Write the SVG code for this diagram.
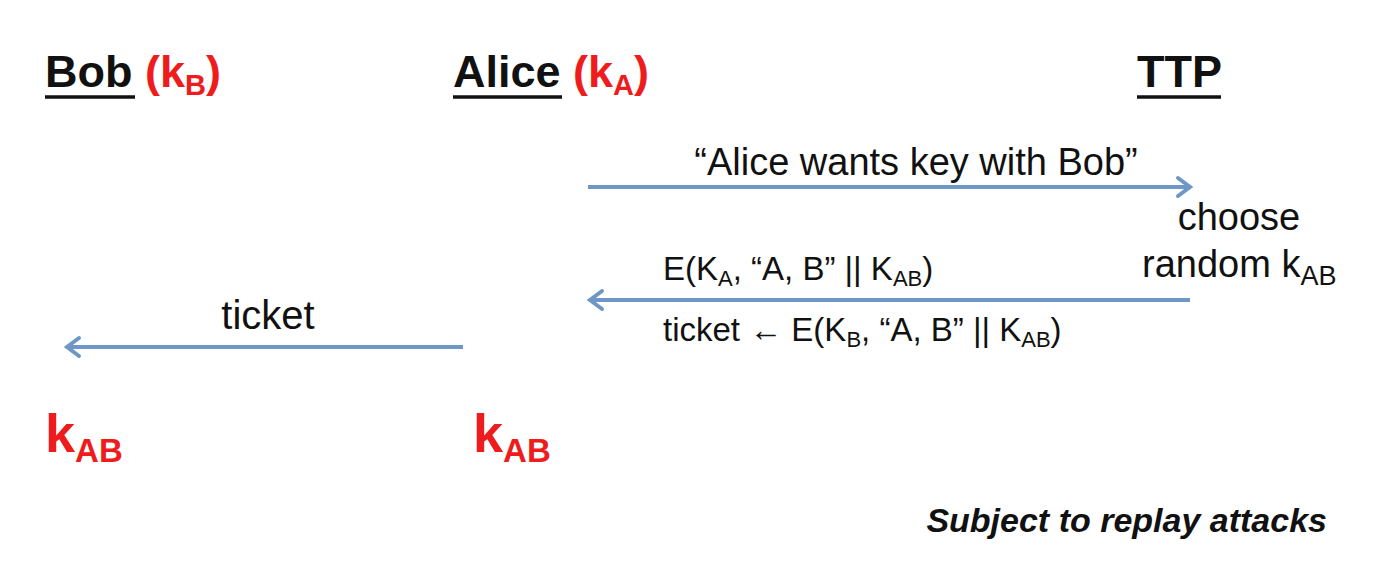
<svg xmlns="http://www.w3.org/2000/svg" width="1386" height="574" viewBox="0 0 1386 574">
<style>
.t{font-family:"Liberation Sans",Arial,sans-serif;fill:#111}
.h{font-size:45px;font-weight:bold}
.r{fill:#ee1c1c}
.m{font-size:38px}
.s{font-size:33px}
.k{font-size:54px;font-weight:bold;fill:#ee1c1c}
.ar{stroke:#6f97c6;stroke-width:4;fill:none}
.ul{stroke:#111;stroke-width:3.5}
</style>
<defs>
<marker id="ah" markerUnits="userSpaceOnUse" markerWidth="24" markerHeight="24" viewBox="-20 -12 24 24" refX="0" refY="0" orient="auto">
<path d="M-12,-9 L0,0 L-12,9" fill="none" stroke="#6f97c6" stroke-width="4" stroke-linejoin="miter" stroke-linecap="round"/>
</marker>
</defs>
<rect width="1386" height="574" fill="#fff"/>
<g id="bob">
<text class="t h" x="45" y="87">Bob <tspan class="r">(k<tspan font-size="29" dy="8">B</tspan><tspan dy="-8">)</tspan></tspan></text>
<line class="ul" x1="45" y1="97" x2="135" y2="97"/>
</g>
<g id="alice">
<text class="t h" x="453" y="87">Alice <tspan class="r">(k<tspan font-size="29" dy="8">A</tspan><tspan dy="-8">)</tspan></tspan></text>
<line class="ul" x1="453" y1="97" x2="562" y2="97"/>
</g>
<g id="ttp">
<text class="t h" x="1137" y="87">TTP</text>
<line class="ul" x1="1137" y1="97" x2="1221" y2="97"/>
</g>
<g id="connectors">
<line class="ar" x1="588" y1="187" x2="1190" y2="187" marker-end="url(#ah)"/>
<line class="ar" x1="1190" y1="300" x2="590" y2="300" marker-end="url(#ah)"/>
<line class="ar" x1="463" y1="347" x2="67" y2="347" marker-end="url(#ah)"/>
</g>
<g id="labels">
<text class="t m" x="916" y="175" text-anchor="middle">“Alice wants key with Bob”</text>
<text class="t m" x="1239" y="230" text-anchor="middle">choose</text>
<text class="t m" x="1142" y="277">random k<tspan font-size="27" dy="8">AB</tspan></text>
<text class="t s" x="663" y="280">E(K<tspan font-size="22" dy="6">A</tspan><tspan dy="-6">, “A, B” || K</tspan><tspan font-size="22" dy="6">AB</tspan><tspan dy="-6">)</tspan></text>
<text class="t s" x="663" y="341">ticket ← E(K<tspan font-size="22" dy="6">B</tspan><tspan dy="-6">, “A, B” || K</tspan><tspan font-size="22" dy="6">AB</tspan><tspan dy="-6">)</tspan></text>
<text class="t" font-size="40" x="268" y="329" text-anchor="middle">ticket</text>
</g>
<g id="bob-key">
<text class="t k" x="45" y="452">k<tspan font-size="33" dy="10">AB</tspan></text>
</g>
<g id="alice-key">
<text class="t k" x="473" y="452">k<tspan font-size="33" dy="10">AB</tspan></text>
</g>
<g id="note">
<text class="t" font-size="34" font-weight="bold" font-style="italic" x="1327" y="532" text-anchor="end">Subject to replay attacks</text>
</g>
</svg>
